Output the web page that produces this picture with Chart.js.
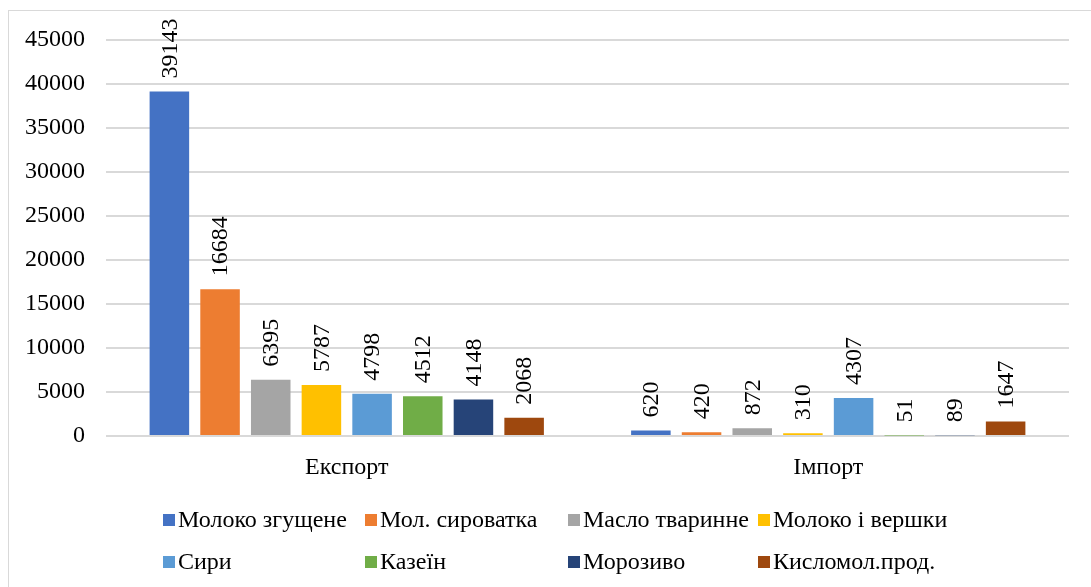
<!DOCTYPE html>
<html>
<head>
<meta charset="utf-8">
<script src="https://cdn.jsdelivr.net/npm/chart.js@4.4.0/dist/chart.umd.min.js"></script>
<style>
  body { margin: 0; background: #fff; font-family: 'Liberation Serif', serif; }
  #wrap { position: relative; width: 1091px; height: 587px; overflow: hidden; }
  #frame { position: absolute; left: 8px; top: 10px; width: 1100px; height: 600px; border: 1px solid #d9d9d9; }
  canvas { position: absolute; left: 0; top: 0; }
  #legend { position: absolute; left: 0; top: 0; }
  .item { position: absolute; font-family: 'Liberation Serif', serif; font-size: 24px; color: #000; white-space: nowrap; line-height: 28px; }
  .box { display: inline-block; width: 12px; height: 12px; margin-right: 3px; vertical-align: 1px; }
</style>
</head>
<body>
<div id="wrap">
  <div id="frame"></div>
  <canvas id="myChart" width="1091" height="587"></canvas>
  <div id="legend"></div>
</div>
<script>
const categories = ["Експорт", "Імпорт"];
const names = ["Молоко згущене", "Мол. сироватка", "Масло тваринне", "Молоко і вершки",
               "Сири", "Казеїн", "Морозиво", "Кисломол.прод."];
const exportValues = [39143, 16684, 6395, 5787, 4798, 4512, 4148, 2068];
const importValues = [620, 420, 872, 310, 4307, 51, 89, 1647];
const colors = ['#4472C4', '#ED7D31', '#A5A5A5', '#FFC000', '#5B9BD5', '#70AD47', '#264478', '#9E480E'];
const yTicks = [0, 5000, 10000, 15000, 20000, 25000, 30000, 35000, 40000, 45000];

const font = "'Liberation Serif', serif";

const datasets = names.map(function (n, i) {
    return {
        label: n,
        data: [exportValues[i], importValues[i]],
        backgroundColor: colors[i],
        borderWidth: 0,
        categoryPercentage: 0.842,
        barPercentage: 0.78
    };
});

// labels above bars, turned upright
const barLabels = {
    id: 'barLabels',
    afterDatasetsDraw(chart) {
        const ctx = chart.ctx;
        ctx.save();
        ctx.fillStyle = '#000';
        ctx.font = '24px ' + font;
        ctx.textAlign = 'left';
        ctx.textBaseline = 'middle';
        chart.data.datasets.forEach(function (ds, i) {
            chart.getDatasetMeta(i).data.forEach(function (bar, j) {
                ctx.save();
                ctx.translate(bar.x, bar.y - 13);
                ctx.rotate(-Math.PI / 2);
                ctx.fillText(String(ds.data[j]), 0, 1);
                ctx.restore();
            });
        });
        ctx.restore();
    }
};

Chart.defaults.font.family = font;

const chart = document.getElementById("myChart");
let barChart = new Chart(chart, {
    type: 'bar',
    data: { labels: categories, datasets: datasets },
    options: {
        responsive: false,
        animation: false,
        layout: { padding: { top: 40, right: 22, bottom: 101, left: 0 } },
        plugins: {
            legend: { display: false },
            tooltip: { enabled: false }
        },
        scales: {
            x: {
                grid: { display: false, drawTicks: false },
                border: { display: false },
                ticks: { color: '#000', font: { family: font, size: 24 }, padding: 17 },
                afterFit(scale) { scale.height = 50; }
            },
            y: {
                min: 0,
                max: 45000,
                afterBuildTicks(scale) { scale.ticks = yTicks.map(v => ({ value: v })); },
                grid: { color: '#d9d9d9', lineWidth: 2, drawTicks: false },
                border: { display: false },
                ticks: {
                    color: '#000',
                    font: { family: font, size: 24 },
                    padding: 21,
                    callback: function (v) { return String(v); }
                },
                afterFit(scale) { scale.width = 106; }
            }
        }
    },
    plugins: [barLabels]
});

// legend in a 4 x 2 grid
const colX = [163, 365, 568, 758];
const rowY = [505, 547];
const legend = document.getElementById("legend");
names.forEach(function (n, i) {
    const el = document.createElement('div');
    el.className = 'item';
    el.style.left = colX[i % 4] + 'px';
    el.style.top = rowY[Math.floor(i / 4)] + 'px';
    el.innerHTML = '<span class="box" style="background:' + colors[i] + '"></span>' + n;
    legend.appendChild(el);
});
</script>
</body>
</html>
